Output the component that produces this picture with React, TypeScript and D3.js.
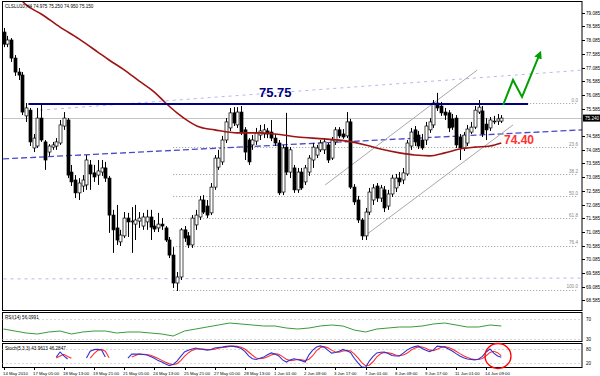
import React from 'react';
import * as d3 from 'd3';

const W = 600;
const H = 376;

const titleText = 'CLSLU10,H4 74.975 75.250 74.950 75.150';

const opens = [78.38,77.94,78.09,77.43,76.92,76.81,75.32,75.53,74.15,74.22,75.24,74.37,74.00,74.18,74.22,74.33,74.95,75.17,73.27,72.98,72.51,72.76,72.80,73.53,73.24,73.16,73.27,73.42,73.05,71.70,71.23,70.72,70.94,71.59,71.45,71.37,71.48,71.30,71.45,71.63,71.30,71.23,71.37,71.23,70.79,70.24,69.22,69.44,71.16,70.94,70.61,71.34,71.63,72.25,72.03,71.78,72.72,73.45,73.64,74.44,74.88,75.43,74.99,75.46,74.81,74.44,74.26,74.40,74.62,74.66,74.77,74.73,74.51,74.33,72.54,74.18,73.27,73.42,72.62,73.27,72.91,73.27,73.71,73.89,74.08,74.08,74.26,73.78,74.37,74.81,74.66,74.59,75.10,72.72,72.25,71.52,70.94,71.81,72.25,72.76,72.32,72.62,72.03,72.47,72.69,73.05,72.98,73.20,74.22,74.81,74.62,74.44,74.44,74.81,74.99,75.79,75.68,75.46,75.43,75.21,75.24,74.55,74.15,74.33,74.73,74.91,75.46,75.50,75.02,74.88,75.10,75.13,75.13];
const highs = [78.53,78.24,78.16,77.54,77.07,76.92,75.79,75.61,74.66,75.61,75.75,74.44,74.29,74.37,74.51,75.17,75.46,75.24,73.53,73.16,73.05,73.16,73.89,73.71,73.53,73.71,73.71,73.64,73.13,71.89,72.07,71.16,71.81,71.78,71.99,72.07,71.81,71.78,71.89,71.89,71.52,71.78,71.59,71.30,70.90,70.53,69.62,71.23,71.30,71.08,71.70,71.89,72.40,72.43,72.25,72.87,73.89,74.08,74.59,75.24,75.61,75.64,75.64,75.68,74.91,74.51,74.62,74.88,74.99,75.02,74.88,75.17,74.66,74.44,74.26,75.43,74.18,73.53,73.42,73.42,73.53,73.89,74.33,74.26,74.44,74.51,74.33,74.55,74.91,74.91,74.84,75.46,75.21,72.83,72.40,71.59,71.96,72.69,72.83,72.87,72.80,72.76,72.62,73.16,73.20,73.27,73.42,74.44,74.88,74.95,74.77,74.66,75.10,75.24,75.90,76.16,75.83,75.61,75.53,75.39,75.35,74.66,74.73,74.99,75.10,75.68,75.90,75.68,75.24,75.28,75.32,75.39,75.35];
const lows = [77.83,77.83,77.29,76.78,76.63,75.35,75.10,74.22,74.00,74.15,74.37,73.35,73.86,74.08,74.08,74.26,74.81,73.05,72.76,72.32,72.25,72.54,72.62,72.62,72.91,72.80,73.13,72.91,71.05,70.32,70.61,70.57,70.86,70.90,70.32,70.79,71.23,71.16,71.16,70.79,71.08,71.08,71.16,70.72,70.13,69.04,68.93,69.33,70.72,70.50,70.50,71.16,71.52,71.74,71.59,71.70,72.62,73.35,73.53,74.33,74.77,74.95,74.88,74.62,73.71,73.53,74.08,74.26,74.44,74.51,74.51,74.40,74.22,72.43,72.43,73.16,73.05,72.51,72.51,72.62,72.80,73.13,73.42,73.78,74.00,73.93,73.60,73.71,74.26,74.51,74.48,74.51,72.65,72.07,71.41,70.79,70.79,71.70,72.07,72.18,72.18,71.81,71.89,72.36,72.54,72.76,72.83,73.13,74.08,74.22,74.11,74.08,74.26,74.70,74.88,75.50,75.32,75.17,74.73,74.81,74.15,73.71,74.04,74.22,74.66,74.84,75.39,74.55,74.44,74.77,75.02,74.99,75.06];
const closes = [77.94,78.09,77.43,76.92,76.81,75.46,75.61,74.37,74.51,75.24,74.44,73.71,74.22,74.26,74.37,74.99,75.24,73.16,72.91,72.51,72.87,72.98,73.71,73.20,73.09,73.31,73.42,73.05,71.70,71.16,70.79,70.97,71.59,71.45,71.48,71.52,71.59,71.63,71.63,71.26,71.19,71.37,71.30,70.79,70.24,69.22,69.44,71.16,70.86,70.61,71.59,71.70,72.25,71.81,71.70,72.72,73.78,73.78,74.44,75.10,75.43,75.06,75.46,74.70,74.00,73.64,74.44,74.70,74.77,74.81,74.66,74.51,74.33,72.51,74.15,73.27,74.08,72.62,73.27,72.69,73.42,73.78,74.18,74.15,74.33,74.37,73.71,74.44,74.81,74.59,74.55,75.10,72.72,72.18,71.52,70.94,71.81,72.54,72.69,72.32,72.69,71.96,72.47,73.05,73.05,72.91,73.24,74.33,74.73,74.37,74.22,74.15,74.95,75.10,75.79,75.61,75.43,75.35,74.88,74.91,74.26,74.15,74.62,74.84,74.91,75.53,75.64,74.66,74.81,75.17,75.13,75.21,75.24];

// moving average (read at sampled bars)
const maIdx = [4,6,10,15,20,25,28,32,36,40,43,46,49,52,56,62,68,72,78,85,91,96,100,105,109,113,117,121,125,129,132];
const maVal = [79.66,79.37,79.04,78.56,78.13,77.65,77.36,77.00,76.59,76.19,75.79,75.43,75.13,74.91,74.81,74.70,74.70,74.66,74.55,74.48,74.40,74.26,74.11,73.97,73.89,73.86,73.97,74.11,74.18,74.22,74.33];

// RSI every 3rd bar
const rsiStep = 3;
const rsiVals = [50,46,42,40,44,46,40,44,46,46,42,44,44,42,40,36,46,50,54,58,62,60,58,56,56,52,50,52,56,58,56,48,44,50,52,54,54,56,60,62,58,54,54,58,56];

const N = null;
const stochK = [N,N,N,N,N,N,N,N,N,N,N,N,N,N,45,67,50,37,N,N,N,N,41,70,77,79,76,45,N,N,N,N,N,41,58,58,58,56,54,48,40,30,24,15,8,14,28,48,67,74,80,84,80,78,75,78,84,86,88,91,93,91,88,82,70,50,38,35,40,45,55,63,58,50,33,24,33,38,35,30,24,55,75,88,93,88,75,62,65,70,78,72,65,40,20,3,0,28,48,63,66,67,60,52,50,50,62,75,84,90,93,82,74,68,76,92,90,88,80,71,60,50,42,37,35,33,37,48,67,80,62,50,44];
const stochD = [N,N,N,N,N,N,N,N,N,N,N,N,N,N,41,50,57,48,40,N,N,N,N,41,60,74,78,70,42,N,N,N,N,N,45,52,58,57,56,53,47,39,31,23,16,12,17,30,48,63,74,79,81,80,78,77,79,83,86,88,91,92,91,87,80,67,53,41,38,40,47,54,59,57,47,36,30,32,35,34,30,36,51,73,85,90,85,75,67,66,71,73,72,59,42,21,8,10,25,46,59,65,64,60,54,51,54,62,74,83,89,88,83,75,73,79,86,90,86,80,70,60,51,43,38,35,35,39,51,65,70,64,50];

const priceTicks = [79.085,78.585,78.085,77.585,77.085,76.585,76.085,75.585,75.085,74.585,74.085,73.585,73.085,72.585,72.085,71.585,71.085,70.585,70.085,69.585,69.085,68.585];

const timeLabels = ['14 May 2010','17 May 05:00','18 May 13:00','19 May 21:00','21 May 05:00','24 May 13:00','25 May 21:00','27 May 05:00','28 May 13:00','1 Jun 01:00','2 Jun 09:00','3 Jun 17:00','7 Jun 01:00','8 Jun 09:00','9 Jun 17:00','11 Jun 01:00','14 Jun 09:00'];
const barsPerLabel = 8;

const fibLevels = [0, 23.6, 38.2, 50, 61.8, 76.4, 100];
const fibHigh = 75.79;
const fibLow = 68.97;
const fibStart = 45;
const fibEnd = 151.9;

const resistance = 75.75;
const resFrom = 6.6;
const resTo = 139.1;
const support = 74.40;

// trend lines: [i1, p1, i2, p2]
const blueTrend = [-0.1, 73.75, 153.4, 74.81];
const lavUpper = [9.7, 75.53, 153.4, 76.99];
const lavLower = [0, 69.37, 153.4, 69.40];
const chanUpper = [85.3, 72.80, 125.6, 76.99];
const chanLower = [95.4, 70.90, 135.1, 74.99];

const arrowIdx = [132.5, 135.1, 137.5, 142.3];
const arrowPrice = [75.72, 76.63, 76.01, 77.62];

const rsiLevels = [70, 30];
const stochLevels = [80, 20];

const FONT = '"Liberation Sans", Arial, sans-serif';

export default function App() {
  const n = closes.length;
  const x = d3.scaleLinear().domain([0, 153.4]).range([3.5, 582]);
  const y = d3.scaleLinear().domain([79.55, 68.235]).range([0, 310]);
  const yRsi = d3.scaleLinear().domain([26, 82]).range([341, 313]);
  const ySto = d3.scaleLinear().domain([0, 100]).range([367.6, 344.3]);

  const maLine = d3.line<number>().x((d, i) => x(maIdx[i])).y((d) => y(d)).curve(d3.curveMonotoneX);
  const rsiLine = d3.line<number>().x((d, i) => x(i * rsiStep)).y((d) => yRsi(d));
  const stoLine = d3.line<number | null>().defined((d) => d !== null).x((d, i) => x(i)).y((d) => ySto(d as number));
  const arrowLine = d3.line<number>().x((d, i) => x(arrowIdx[i])).y((d) => y(d));

  const seg = (t: number[], props: any, key: string) => (
    <line key={key} x1={x(t[0])} y1={y(t[1])} x2={x(t[2])} y2={y(t[3])} {...props} />
  );

  const last = closes[n - 1];
  const lastY = y(last);

  return (
    <svg width={W} height={H} style={{ position: 'fixed', left: 0, top: 0, background: '#fff' }} fontFamily={FONT}>
      <defs>
        <clipPath id="mainClip"><rect x={2.5} y={1.5} width={579.5} height={309} /></clipPath>
        <clipPath id="stoClip"><rect x={2.5} y={343.5} width={579.5} height={24} /></clipPath>
        <marker id="ah" viewBox="0 0 10 10" refX="7" refY="5" markerWidth="4" markerHeight="4" orient="auto">
          <path d="M0,0 L10,5 L0,10 z" fill="#00a000" />
        </marker>
      </defs>
      <rect x={0} y={0} width={W} height={H} fill="#fff" />

      {/* main panel */}
      <g clipPath="url(#mainClip)">
        {fibLevels.map((lv) => {
          const p = fibHigh - (fibHigh - fibLow) * lv / 100;
          return (
            <g key={'f' + lv}>
              <line x1={x(fibStart)} x2={x(fibEnd)} y1={Math.round(y(p)) + 0.5} y2={Math.round(y(p)) + 0.5} stroke="#9a9a9a" strokeWidth={1} strokeDasharray="1,2" />
              <text x={578} y={y(p) - 1.5} fontSize={4.6} fill="#888" textAnchor="end">{lv.toFixed(1)}</text>
            </g>
          );
        })}
        {seg(lavUpper, { stroke: '#b4b8f0', strokeWidth: 1, strokeDasharray: '3,4' }, 'lu')}
        {seg(lavLower, { stroke: '#b4b8f0', strokeWidth: 1, strokeDasharray: '3,4' }, 'll')}
        <line x1={2.5} x2={582} y1={Math.round(lastY) + 0.5} y2={Math.round(lastY) + 0.5} stroke="#c4c4c4" strokeWidth={1} />
        {seg(blueTrend, { stroke: '#4a4ac8', strokeWidth: 1.3, strokeDasharray: '6,3' }, 'bt')}
        {seg(chanUpper, { stroke: '#a8a8a8', strokeWidth: 1 }, 'cu')}
        {seg(chanLower, { stroke: '#a8a8a8', strokeWidth: 1 }, 'cl')}

        {closes.map((c, i) => {
          const o = opens[i];
          const cx = Math.round(x(i)) + 0.5;
          const up = c >= o;
          const top = y(Math.max(o, c));
          const bot = y(Math.min(o, c));
          return (
            <g key={'c' + i}>
              <line x1={cx} x2={cx} y1={y(highs[i])} y2={y(lows[i])} stroke="#000" strokeWidth={1} />
              <rect x={cx - 1.5} y={top} width={3} height={Math.max(bot - top, 0.8)} fill={up ? '#fff' : '#000'} stroke="#000" strokeWidth={0.7} />
            </g>
          );
        })}

        <path d={maLine(maVal) || ''} fill="none" stroke="#9e1414" strokeWidth={1.6} />

        <line x1={x(resFrom)} x2={x(resTo)} y1={y(resistance)} y2={y(resistance)} stroke="#000080" strokeWidth={2} />
        <text x={259} y={97} fontSize={13} fontWeight="bold" fill="#000080">{resistance.toFixed(2)}</text>
        <text x={504} y={144} fontSize={12} fontWeight="bold" fill="#ff3030">{support.toFixed(2)}</text>

        <path d={arrowLine(arrowPrice) || ''} fill="none" stroke="#00a000" strokeWidth={2} markerEnd="url(#ah)" />

        <text x={5} y={8} fontSize={4.6} fill="#000">{titleText}</text>
      </g>

      <rect x={2.5} y={1.5} width={579.5} height={309} fill="none" stroke="#000" strokeWidth={1} />
      <rect x={2.5} y={312.5} width={579.5} height={29} fill="none" stroke="#000" strokeWidth={1} />
      <rect x={2.5} y={343.5} width={579.5} height={24} fill="none" stroke="#000" strokeWidth={1} />

      {/* price axis */}
      {priceTicks.filter((p) => Math.abs(y(p) - lastY) > 6).map((p) => (
        <g key={'t' + p}>
          <line x1={582} x2={585} y1={Math.round(y(p)) + 0.5} y2={Math.round(y(p)) + 0.5} stroke="#000" />
          <text x={586} y={y(p) + 2} fontSize={4.6} fill="#000">{p.toFixed(3)}</text>
        </g>
      ))}
      <rect x={583} y={lastY - 3.5} width={17} height={7} fill="#000" />
      <text x={585} y={lastY + 1.8} fontSize={4.6} fill="#fff">{last.toFixed(3)}</text>

      {/* RSI */}
      {rsiLevels.map((lv) => (
        <g key={'rl' + lv}>
          <line x1={2.5} x2={582} y1={Math.round(yRsi(lv)) + 0.5} y2={Math.round(yRsi(lv)) + 0.5} stroke="#b0b0b0" strokeDasharray="1,3" />
          <text x={586} y={yRsi(lv) + 2} fontSize={4.6}>{lv}</text>
        </g>
      ))}
      <path d={rsiLine(rsiVals) || ''} fill="none" stroke="#3a9a3a" strokeWidth={1} />
      <text x={5} y={319} fontSize={4.6}>{'RSI(14) 56.0991'}</text>

      {/* Stochastic */}
      {stochLevels.map((lv) => (
        <g key={'sl' + lv}>
          <line x1={2.5} x2={582} y1={Math.round(ySto(lv)) + 0.5} y2={Math.round(ySto(lv)) + 0.5} stroke="#b0b0b0" strokeDasharray="1,3" />
          <text x={586} y={ySto(lv) + 2} fontSize={4.6}>{lv}</text>
        </g>
      ))}
      <g clipPath="url(#stoClip)">
        <path d={stoLine(stochD) || ''} fill="none" stroke="#ff3030" strokeWidth={1.1} />
        <path d={stoLine(stochK) || ''} fill="none" stroke="#3030d0" strokeWidth={1.1} />
      </g>
      <text x={5} y={349.5} fontSize={4.6}>{'Stoch(5,3,3) 43.9613 46.2847'}</text>
      <ellipse cx={498} cy={356} rx={13} ry={12.5} fill="none" stroke="#ff0000" strokeWidth={1.3} />

      {/* time axis */}
      {timeLabels.map((t, k) => {
        const tx = Math.round(x(k * barsPerLabel)) + 0.5;
        return (
          <g key={'x' + k}>
            <line x1={tx} x2={tx} y1={367.5} y2={370} stroke="#000" />
            <text x={tx - 1.5} y={375} fontSize={4.3}>{t}</text>
          </g>
        );
      })}
    </svg>
  );
}
